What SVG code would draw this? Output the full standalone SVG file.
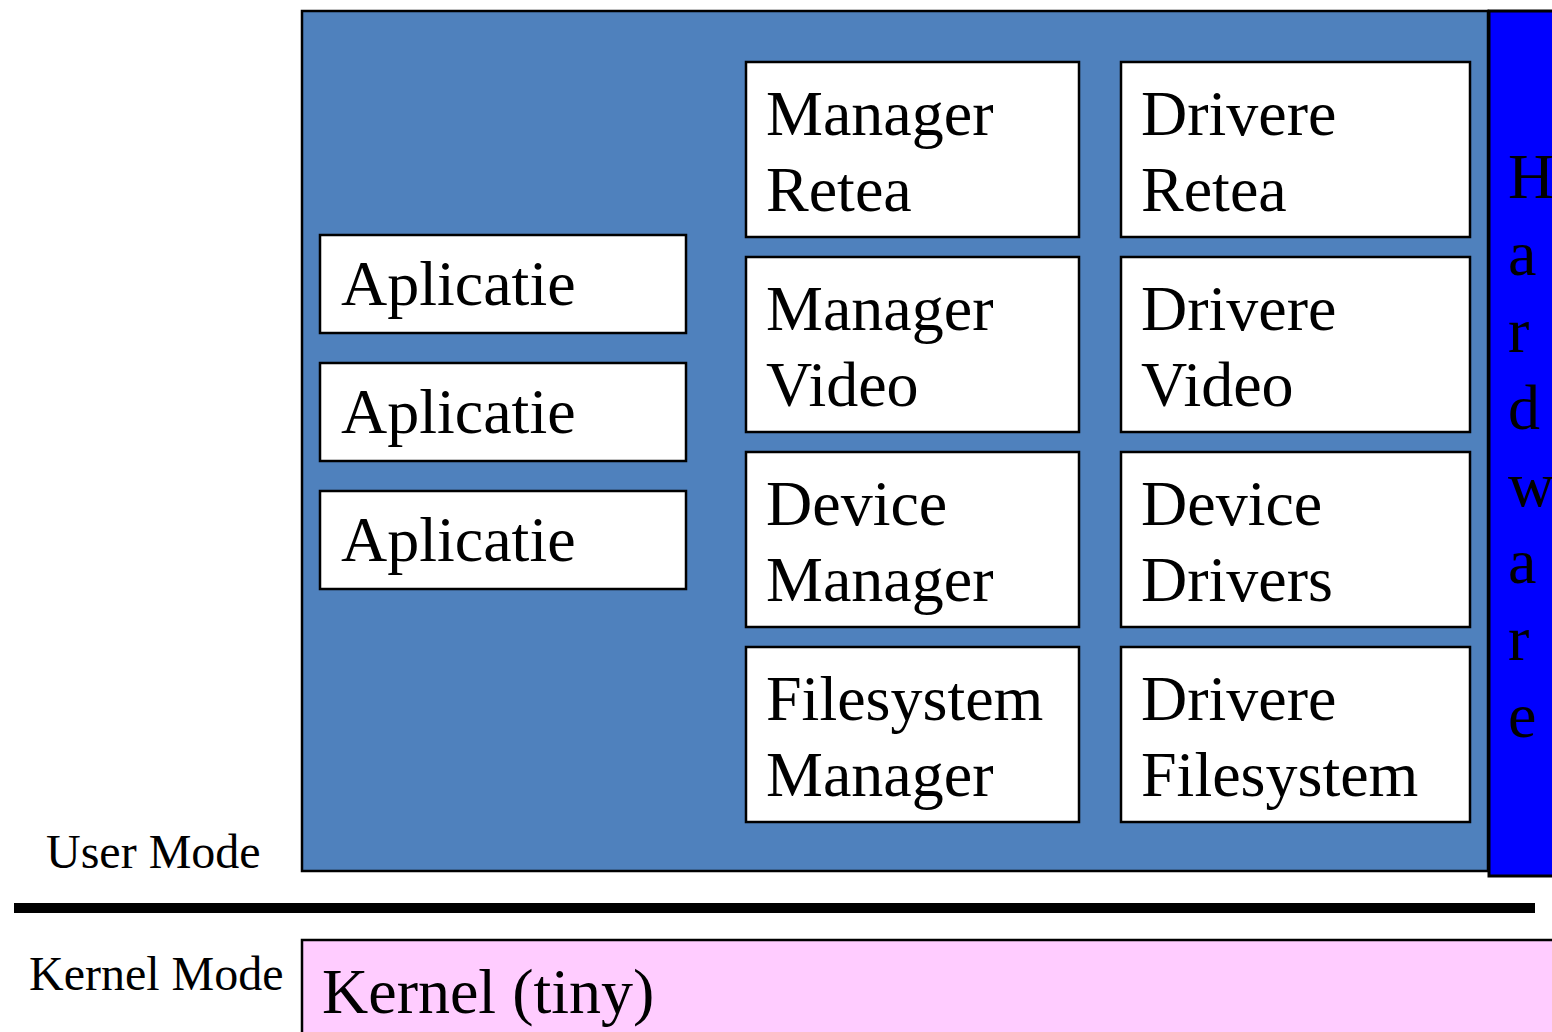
<svg xmlns="http://www.w3.org/2000/svg" width="1552" height="1032" viewBox="0 0 1552 1032">
<style>
.t{font-family:"Liberation Serif","Times New Roman",serif;fill:#000}
.big{font-size:64px}
.lbl{font-size:48px}
.box{fill:#fff;stroke:#000;stroke-width:2.5}
</style>
<rect width="1552" height="1032" fill="#fff"/>
<g id="user-area">
<rect x="302" y="11" width="1186" height="860" fill="#4F81BD" stroke="#000" stroke-width="2.5"/>
</g>
<g id="hardware">
<rect x="1489" y="11" width="70" height="865" fill="#0000FF" stroke="#000" stroke-width="3"/>
<text class="t big" x="1508" y="198">H</text>
<text class="t big" x="1508" y="275">a</text>
<text class="t big" x="1508" y="352">r</text>
<text class="t big" x="1508" y="429">d</text>
<text class="t big" x="1508" y="506">w</text>
<text class="t big" x="1508" y="583">a</text>
<text class="t big" x="1508" y="660">r</text>
<text class="t big" x="1508" y="737">e</text>
</g>
<g id="app1"><rect class="box" x="320" y="235" width="366" height="98"/><text class="t big" x="341" y="305">Aplicatie</text></g>
<g id="app2"><rect class="box" x="320" y="363" width="366" height="98"/><text class="t big" x="341" y="433">Aplicatie</text></g>
<g id="app3"><rect class="box" x="320" y="491" width="366" height="98"/><text class="t big" x="341" y="561">Aplicatie</text></g>
<g id="mgr-retea"><rect class="box" x="746" y="62" width="333" height="175"/><text class="t big" x="766" y="135">Manager</text><text class="t big" x="766" y="211">Retea</text></g>
<g id="mgr-video"><rect class="box" x="746" y="257" width="333" height="175"/><text class="t big" x="766" y="330">Manager</text><text class="t big" x="766" y="406">Video</text></g>
<g id="device-mgr"><rect class="box" x="746" y="452" width="333" height="175"/><text class="t big" x="766" y="525">Device</text><text class="t big" x="766" y="601">Manager</text></g>
<g id="fs-mgr"><rect class="box" x="746" y="647" width="333" height="175"/><text class="t big" x="766" y="720">Filesystem</text><text class="t big" x="766" y="796">Manager</text></g>
<g id="drv-retea"><rect class="box" x="1121" y="62" width="349" height="175"/><text class="t big" x="1141" y="135">Drivere</text><text class="t big" x="1141" y="211">Retea</text></g>
<g id="drv-video"><rect class="box" x="1121" y="257" width="349" height="175"/><text class="t big" x="1141" y="330">Drivere</text><text class="t big" x="1141" y="406">Video</text></g>
<g id="dev-drv"><rect class="box" x="1121" y="452" width="349" height="175"/><text class="t big" x="1141" y="525">Device</text><text class="t big" x="1141" y="601">Drivers</text></g>
<g id="drv-fs"><rect class="box" x="1121" y="647" width="349" height="175"/><text class="t big" x="1141" y="720">Drivere</text><text class="t big" x="1141" y="796">Filesystem</text></g>
<g id="connectors">
<rect x="14" y="903" width="1521" height="10" fill="#000"/>
</g>
<text class="t lbl" x="46" y="868">User Mode</text>
<text class="t lbl" x="29" y="990">Kernel Mode</text>
<g id="kernel">
<rect x="302" y="940" width="1260" height="100" fill="#FFCCFF" stroke="#000" stroke-width="2.5"/>
<text class="t big" x="322" y="1013">Kernel (tiny)</text>
</g>
</svg>
